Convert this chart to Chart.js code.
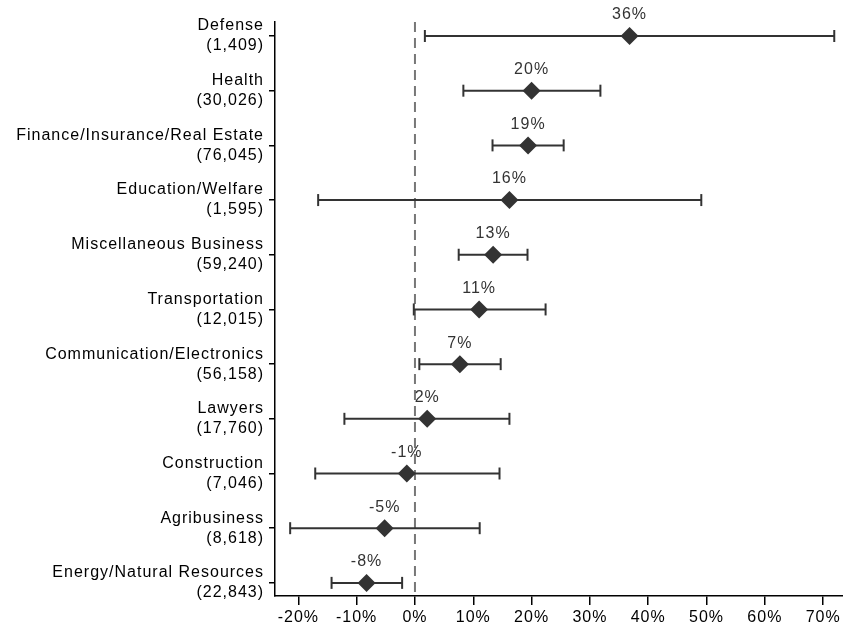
<!DOCTYPE html>
<html>
<head>
<meta charset="utf-8">
<script src="https://cdn.jsdelivr.net/npm/chart.js@4/dist/chart.umd.min.js"></script>
<style>
  html, body { margin: 0; padding: 0; background: #fff; }
  #wrap { width: 843px; height: 631px; }
</style>
</head>
<body>
<div id="wrap"><canvas id="mychart" width="843" height="631"></canvas></div>
<script>
// sectors top to bottom, with number of observations
const sectors = ['Defense', 'Health', 'Finance/Insurance/Real Estate', 'Education/Welfare',
  'Miscellaneous Business', 'Transportation', 'Communication/Electronics', 'Lawyers',
  'Construction', 'Agribusiness', 'Energy/Natural Resources'];
const counts = ['1,409', '30,026', '76,045', '1,595', '59,240', '12,015', '56,158',
  '17,760', '7,046', '8,618', '22,843'];

// point estimates and confidence bounds (percent)
const estimates = [36.8, 20.0, 19.4, 16.2, 13.4, 11.0, 7.7, 2.1, -1.4, -5.2, -8.3];
const lower = [1.7, 8.3, 13.3, -16.6, 7.5, -0.2, 0.75, -12.1, -17.1, -21.4, -14.3];
const upper = [71.9, 31.8, 25.5, 49.1, 19.3, 22.4, 14.7, 16.2, 14.5, 11.1, -2.2];
const pctLabels = ['36%', '20%', '19%', '16%', '13%', '11%', '7%', '2%', '-1%', '-5%', '-8%'];

const xTicks = [-20, -10, 0, 10, 20, 30, 40, 50, 60, 70];
const xMin = -24.0, xMax = 73.4;
const yMin = -0.256, yMax = 10.24;

const dark = '#333333';
const fontFamily = '"Liberation Sans", Arial, Helvetica, sans-serif';
let datasets = [];

// dashed reference line at 0%
datasets.push({
    type: 'line',
    data: [{x: 0, y: yMin}, {x: 0, y: yMax}],
    borderColor: '#777777',
    borderWidth: 2,
    borderDash: [10, 6],
    pointRadius: 0,
    order: 3
});

// confidence interval lines with caps
for (var i = 0; i < sectors.length; i++) {
    datasets.push({
        type: 'line',
        data: [{x: lower[i], y: i}, {x: upper[i], y: i}],
        borderColor: dark,
        borderWidth: 2,
        pointStyle: 'line',
        rotation: 90,
        pointRadius: 6,
        pointBorderColor: dark,
        pointBorderWidth: 2,
        order: 2
    });
}

// point estimates
datasets.push({
    type: 'scatter',
    data: estimates.map((v, i) => ({x: v, y: i})),
    pointStyle: 'rectRot',
    pointRadius: 9,
    backgroundColor: dark,
    borderColor: dark,
    borderWidth: 0,
    order: 1,
    isEstimate: true
});

// slightly wider text, like the original
const spacing = {
    id: 'spacing',
    beforeDraw(chart) { chart.ctx.letterSpacing = '1px'; }
};

// percent labels above each diamond
const valueLabels = {
    id: 'valueLabels',
    afterDatasetsDraw(chart) {
        const ctx = chart.ctx;
        chart.data.datasets.forEach((ds, di) => {
            if (!ds.isEstimate) return;
            const meta = chart.getDatasetMeta(di);
            ctx.save();
            ctx.letterSpacing = '1px';
            ctx.font = '16px ' + fontFamily;
            ctx.fillStyle = dark;
            ctx.textAlign = 'center';
            ctx.textBaseline = 'middle';
            meta.data.forEach((pt, i) => {
                ctx.fillText(pctLabels[i], pt.x, pt.y - 21);
            });
            ctx.restore();
        });
    }
};

const tickFont = { family: fontFamily, size: 16, lineHeight: 1.25 };

var ctx = document.getElementById('mychart').getContext('2d');
var chart = new Chart(ctx, {
    type: 'scatter',
    data: { datasets: datasets },
    options: {
        responsive: false,
        animation: false,
        events: [],
        layout: { autoPadding: false, padding: { top: 22, right: 0, bottom: 0, left: 0 } },
        plugins: {
            legend: { display: false },
            tooltip: { enabled: false }
        },
        scales: {
            x: {
                type: 'linear',
                min: xMin,
                max: xMax,
                afterBuildTicks: (scale) => { scale.ticks = xTicks.map(v => ({value: v})); },
                afterFit: (scale) => {
                    scale.height = 35;
                    scale.paddingLeft = 0;
                    scale.paddingRight = 0;
                },
                grid: { drawOnChartArea: false, drawTicks: true, tickLength: 9, color: '#000', lineWidth: 1.5 },
                border: { color: '#000', width: 1.5 },
                ticks: {
                    color: '#000',
                    font: tickFont,
                    padding: 3,
                    maxRotation: 0,
                    autoSkip: false,
                    callback: (v) => v + '%'
                }
            },
            y: {
                type: 'linear',
                reverse: true,
                min: yMin,
                max: yMax,
                afterBuildTicks: (scale) => { scale.ticks = sectors.map((s, i) => ({value: i})); },
                afterFit: (scale) => {
                    scale.width = 275;
                    scale.paddingTop = 0;
                    scale.paddingBottom = 0;
                },
                grid: { drawOnChartArea: false, drawTicks: true, tickLength: 6, color: '#000', lineWidth: 1.5 },
                border: { color: '#000', width: 1.5 },
                ticks: {
                    color: '#000',
                    font: tickFont,
                    padding: 5,
                    autoSkip: false,
                    callback: (v) => [sectors[v], '(' + counts[v] + ')']
                }
            }
        }
    },
    plugins: [spacing, valueLabels]
});
</script>
</body>
</html>
